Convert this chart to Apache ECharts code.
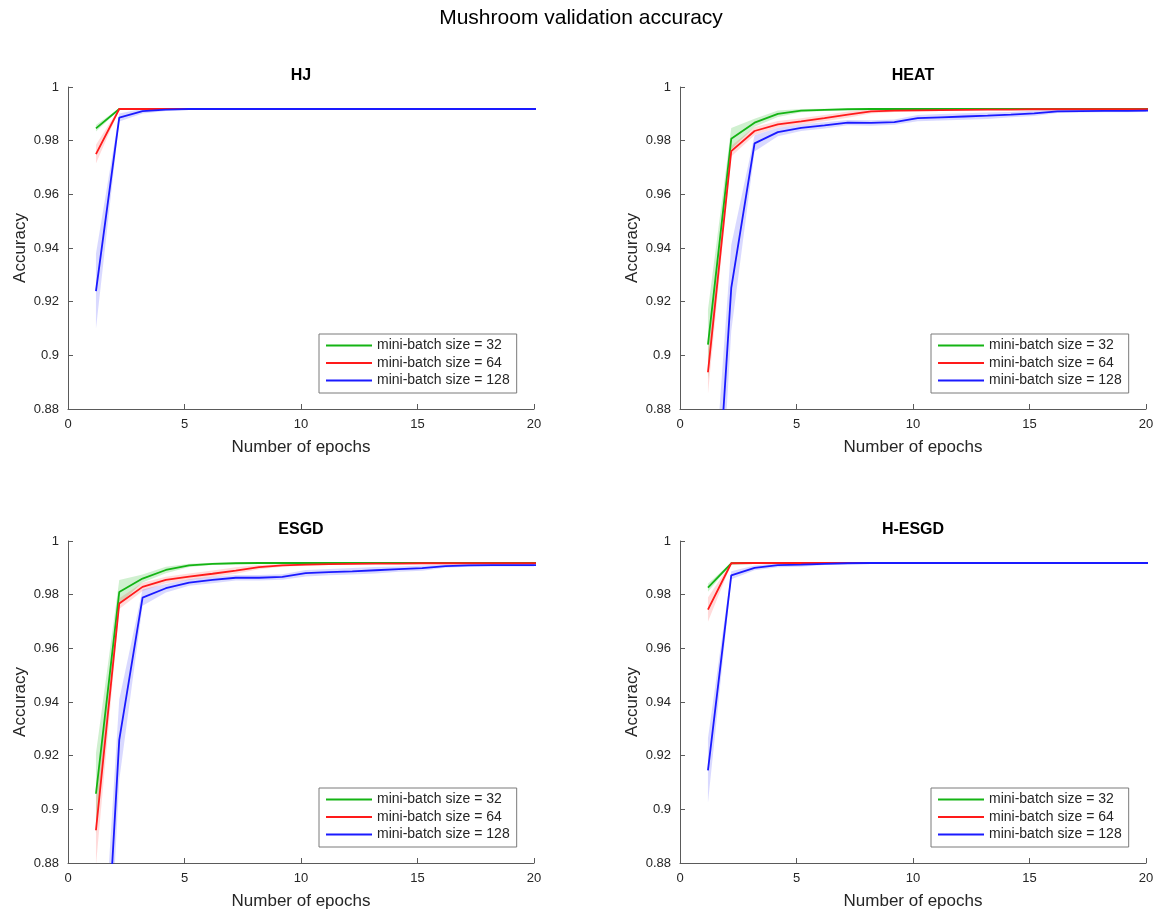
<!DOCTYPE html>
<html>
<head>
<meta charset="utf-8">
<title>Mushroom validation accuracy</title>
<script src="https://cdn.jsdelivr.net/npm/echarts@6/dist/echarts.min.js"></script>
<style>
  html, body { margin: 0; padding: 0; background: #ffffff; }
  #chart { width: 1162px; height: 914px; }
</style>
</head>
<body>
<div id="chart"></div>
<script>
// Epoch positions of the recorded validation checkpoints
const epochs = [1.2, 2.2, 3.2, 4.2, 5.2, 6.2, 7.2, 8.2, 9.2, 10.2,
                11.2, 12.2, 13.2, 14.2, 15.2, 16.2, 17.2, 18.2, 19.2, 20.2];

const seriesNames = ['mini-batch size = 32', 'mini-batch size = 64', 'mini-batch size = 128'];
const xTicks = [0, 5, 10, 15, 20];
const yTicks = [0.88, 0.9, 0.92, 0.94, 0.96, 0.98, 1];

// HJ: mean accuracy and standard deviation per batch size
const hjMean32  = [0.9846, 0.9918, 0.9918, 0.9918, 0.9918, 0.9918, 0.9918, 0.9918, 0.9918, 0.9918, 0.9918, 0.9918, 0.9918, 0.9918, 0.9918, 0.9918, 0.9918, 0.9918, 0.9918, 0.9918];
const hjSd32    = [0.0012, 0.0003, 0.0002, 0.0002, 0.0002, 0.0002, 0.0002, 0.0002, 0.0002, 0.0002, 0.0002, 0.0002, 0.0002, 0.0002, 0.0002, 0.0002, 0.0002, 0.0002, 0.0002, 0.0002];
const hjMean64  = [0.9750, 0.9918, 0.9918, 0.9918, 0.9918, 0.9918, 0.9918, 0.9918, 0.9918, 0.9918, 0.9918, 0.9918, 0.9918, 0.9918, 0.9918, 0.9918, 0.9918, 0.9918, 0.9918, 0.9918];
const hjSd64    = [0.0035, 0.0003, 0.0002, 0.0002, 0.0002, 0.0002, 0.0002, 0.0002, 0.0002, 0.0002, 0.0002, 0.0002, 0.0002, 0.0002, 0.0002, 0.0002, 0.0002, 0.0002, 0.0002, 0.0002];
const hjMean128 = [0.9239, 0.9886, 0.9910, 0.9916, 0.9918, 0.9918, 0.9918, 0.9918, 0.9918, 0.9918, 0.9918, 0.9918, 0.9918, 0.9918, 0.9918, 0.9918, 0.9918, 0.9918, 0.9918, 0.9918];
const hjSd128   = [0.0140, 0.0015, 0.0009, 0.0005, 0.0002, 0.0002, 0.0002, 0.0002, 0.0002, 0.0002, 0.0002, 0.0002, 0.0002, 0.0002, 0.0002, 0.0002, 0.0002, 0.0002, 0.0002, 0.0002];

// HEAT
const heatMean32  = [0.9040, 0.9807, 0.9867, 0.9900, 0.9912, 0.9915, 0.9917, 0.9918, 0.9918, 0.9918, 0.9918, 0.9918, 0.9918, 0.9918, 0.9918, 0.9918, 0.9918, 0.9918, 0.9918, 0.9918];
const heatSd32    = [0.0130, 0.0040, 0.0015, 0.0012, 0.0006, 0.0004, 0.0003, 0.0002, 0.0002, 0.0002, 0.0002, 0.0002, 0.0002, 0.0002, 0.0002, 0.0002, 0.0002, 0.0002, 0.0002, 0.0002];
const heatMean64  = [0.8937, 0.9761, 0.9836, 0.9861, 0.9872, 0.9884, 0.9897, 0.9909, 0.9912, 0.9913, 0.9914, 0.9915, 0.9916, 0.9916, 0.9917, 0.9917, 0.9917, 0.9917, 0.9917, 0.9917];
const heatSd64    = [0.0080, 0.0020, 0.0015, 0.0012, 0.0012, 0.0012, 0.0012, 0.0008, 0.0005, 0.0004, 0.0003, 0.0003, 0.0002, 0.0002, 0.0002, 0.0002, 0.0002, 0.0002, 0.0002, 0.0002];
const heatMean128 = [0.7900, 0.9251, 0.9790, 0.9832, 0.9848, 0.9857, 0.9867, 0.9866, 0.9869, 0.9884, 0.9887, 0.9890, 0.9893, 0.9897, 0.9902, 0.9909, 0.9910, 0.9911, 0.9911, 0.9912];
const heatSd128   = [0.0300, 0.0160, 0.0030, 0.0016, 0.0012, 0.0012, 0.0010, 0.0010, 0.0010, 0.0012, 0.0012, 0.0012, 0.0012, 0.0010, 0.0010, 0.0006, 0.0005, 0.0005, 0.0005, 0.0005];

// ESGD
const esgdMean32  = [0.9058, 0.9810, 0.9860, 0.9892, 0.9909, 0.9915, 0.9917, 0.9918, 0.9918, 0.9918, 0.9918, 0.9918, 0.9918, 0.9918, 0.9918, 0.9918, 0.9918, 0.9918, 0.9918, 0.9918];
const esgdSd32    = [0.0150, 0.0045, 0.0015, 0.0012, 0.0006, 0.0004, 0.0003, 0.0002, 0.0002, 0.0002, 0.0002, 0.0002, 0.0002, 0.0002, 0.0002, 0.0002, 0.0002, 0.0002, 0.0002, 0.0002];
const esgdMean64  = [0.8922, 0.9767, 0.9829, 0.9855, 0.9867, 0.9878, 0.9890, 0.9903, 0.9909, 0.9912, 0.9914, 0.9915, 0.9916, 0.9916, 0.9917, 0.9917, 0.9917, 0.9917, 0.9917, 0.9917];
const esgdSd64    = [0.0130, 0.0020, 0.0015, 0.0012, 0.0012, 0.0012, 0.0012, 0.0008, 0.0005, 0.0004, 0.0003, 0.0003, 0.0002, 0.0002, 0.0002, 0.0002, 0.0002, 0.0002, 0.0002, 0.0002];
const esgdMean128 = [0.7730, 0.9259, 0.9789, 0.9824, 0.9845, 0.9855, 0.9863, 0.9863, 0.9866, 0.9880, 0.9884, 0.9887, 0.9891, 0.9895, 0.9899, 0.9906, 0.9909, 0.9910, 0.9910, 0.9910];
const esgdSd128   = [0.0300, 0.0150, 0.0030, 0.0016, 0.0012, 0.0012, 0.0010, 0.0010, 0.0010, 0.0012, 0.0012, 0.0012, 0.0012, 0.0010, 0.0010, 0.0006, 0.0005, 0.0005, 0.0005, 0.0005];

// H-ESGD
const hesgdMean32  = [0.9826, 0.9917, 0.9918, 0.9918, 0.9918, 0.9918, 0.9918, 0.9918, 0.9918, 0.9918, 0.9918, 0.9918, 0.9918, 0.9918, 0.9918, 0.9918, 0.9918, 0.9918, 0.9918, 0.9918];
const hesgdSd32    = [0.0015, 0.0003, 0.0002, 0.0002, 0.0002, 0.0002, 0.0002, 0.0002, 0.0002, 0.0002, 0.0002, 0.0002, 0.0002, 0.0002, 0.0002, 0.0002, 0.0002, 0.0002, 0.0002, 0.0002];
const hesgdMean64  = [0.9744, 0.9917, 0.9918, 0.9918, 0.9918, 0.9918, 0.9918, 0.9918, 0.9918, 0.9918, 0.9918, 0.9918, 0.9918, 0.9918, 0.9918, 0.9918, 0.9918, 0.9918, 0.9918, 0.9918];
const hesgdSd64    = [0.0045, 0.0003, 0.0002, 0.0002, 0.0002, 0.0002, 0.0002, 0.0002, 0.0002, 0.0002, 0.0002, 0.0002, 0.0002, 0.0002, 0.0002, 0.0002, 0.0002, 0.0002, 0.0002, 0.0002];
const hesgdMean128 = [0.9145, 0.9872, 0.9900, 0.9910, 0.9912, 0.9915, 0.9917, 0.9918, 0.9918, 0.9918, 0.9918, 0.9918, 0.9918, 0.9918, 0.9918, 0.9918, 0.9918, 0.9918, 0.9918, 0.9918];
const hesgdSd128   = [0.0120, 0.0015, 0.0009, 0.0008, 0.0008, 0.0004, 0.0003, 0.0002, 0.0002, 0.0002, 0.0002, 0.0002, 0.0002, 0.0002, 0.0002, 0.0002, 0.0002, 0.0002, 0.0002, 0.0002];

const panelTitles = ['HJ', 'HEAT', 'ESGD', 'H-ESGD'];
const panelMeans = [
  [hjMean32, hjMean64, hjMean128],
  [heatMean32, heatMean64, heatMean128],
  [esgdMean32, esgdMean64, esgdMean128],
  [hesgdMean32, hesgdMean64, hesgdMean128]
];
const panelSds = [
  [hjSd32, hjSd64, hjSd128],
  [heatSd32, heatSd64, heatSd128],
  [esgdSd32, esgdSd64, esgdSd128],
  [hesgdSd32, hesgdSd64, hesgdSd128]
];

// Styling
const lineColors = ['#14b414', '#ff1a1a', '#1a1aff'];
const bandColors = ['rgba(20,180,20,0.2)', 'rgba(255,30,30,0.16)', 'rgba(30,30,255,0.17)'];
const FONT = '"Liberation Sans", Arial, Helvetica, sans-serif';
const TEXT = '#262626';
const AXIS = '#5a5a5a';

// Panel placement (pixels): left edge and top edge of each plotting area
const panelLeft = [68, 680, 68, 680];
const panelTop = [87, 87, 541, 541];
const panelW = 466, panelH = 322;

const grids = [], xAxes = [], yAxes = [], titles = [], legends = [], series = [];

titles.push({
  text: 'Mushroom validation accuracy',
  left: 581, top: 8, textAlign: 'center', padding: 0,
  textStyle: { fontFamily: FONT, fontSize: 21, fontWeight: 'normal', color: '#000' }
});

// Shaded band (mean ± sd) drawn as one polygon through the axis scales
function bandSeries(p, mean, sd, fill) {
  return {
    type: 'custom', xAxisIndex: p, yAxisIndex: p, silent: true, z: 1,
    data: epochs.map((x, i) => [x, mean[i] - sd[i], mean[i] + sd[i]]),
    renderItem: function (params, api) {
      if (params.dataIndex !== 0) return null;
      const upper = epochs.map((x, i) => api.coord([x, mean[i] + sd[i]]));
      const lower = epochs.map((x, i) => api.coord([x, mean[i] - sd[i]])).reverse();
      const cs = params.coordSys;
      return {
        type: 'polygon',
        shape: { points: upper.concat(lower) },
        style: { fill: fill, stroke: null },
        clipPath: { type: 'rect', shape: { x: cs.x, y: cs.y, width: cs.width, height: cs.height } }
      };
    }
  };
}

for (let p = 0; p < 4; p++) {
  grids.push({ left: panelLeft[p], top: panelTop[p], width: panelW, height: panelH, containLabel: false });

  xAxes.push({
    type: 'value', gridIndex: p, min: 0, max: 20, interval: 5,
    name: 'Number of epochs', nameLocation: 'middle', nameGap: 30,
    nameTextStyle: { fontFamily: FONT, fontSize: 17, color: TEXT },
    axisLine: { show: true, lineStyle: { color: AXIS, width: 1 } },
    axisTick: { show: true, inside: true, length: 5, lineStyle: { color: AXIS } },
    axisLabel: { fontFamily: FONT, fontSize: 13, color: TEXT, margin: 9,
                 formatter: v => (xTicks.indexOf(v) >= 0 ? String(v) : '') },
    splitLine: { show: false }
  });

  yAxes.push({
    type: 'value', gridIndex: p, min: 0.88, max: 1, interval: 0.02,
    name: 'Accuracy', nameLocation: 'middle', nameGap: 39,
    nameTextStyle: { fontFamily: FONT, fontSize: 17, color: TEXT },
    axisLine: { show: true, lineStyle: { color: AXIS, width: 1 } },
    axisTick: { show: true, inside: true, length: 5, lineStyle: { color: AXIS } },
    axisLabel: { fontFamily: FONT, fontSize: 13, color: TEXT, margin: 9,
                 formatter: v => {
                   const t = yTicks.find(k => Math.abs(k - v) < 1e-9);
                   return t === undefined ? '' : String(t);
                 } },
    splitLine: { show: false }
  });

  titles.push({
    text: panelTitles[p],
    left: panelLeft[p] + panelW / 2, top: panelTop[p] - 19, textAlign: 'center', padding: 0,
    textStyle: { fontFamily: FONT, fontSize: 16, fontWeight: 'bold', color: '#000' }
  });

  legends.push({
    data: seriesNames,
    orient: 'vertical',
    left: panelLeft[p] + 251, top: panelTop[p] + 247,
    icon: 'rect', itemWidth: 46, itemHeight: 2, itemGap: 2.5,
    padding: [4, 7, 5, 7],
    borderColor: '#7a7a7a', borderWidth: 1, backgroundColor: '#ffffff',
    selectedMode: false,
    textStyle: { fontFamily: FONT, fontSize: 14, color: TEXT, lineHeight: 15, padding: [0, 0, 0, 0] },
    itemStyle: { borderWidth: 0 }
  });

  for (let s = 0; s < 3; s++) {
    series.push(bandSeries(p, panelMeans[p][s], panelSds[p][s], bandColors[s]));
  }
  // Mean curves
  for (let s = 0; s < 3; s++) {
    const m = panelMeans[p][s];
    series.push({
      type: 'line', name: seriesNames[s], xAxisIndex: p, yAxisIndex: p,
      symbol: 'none', z: 3, clip: true,
      color: lineColors[s],
      itemStyle: { color: lineColors[s] },
      lineStyle: { color: lineColors[s], width: 1.8 },
      data: epochs.map((x, i) => [x, m[i]])
    });
  }
}

const chart = echarts.init(document.getElementById('chart'), null, { renderer: 'canvas' });
chart.setOption({
  animation: false,
  backgroundColor: '#ffffff',
  title: titles,
  legend: legends,
  grid: grids,
  xAxis: xAxes,
  yAxis: yAxes,
  series: series
});
</script>
</body>
</html>
